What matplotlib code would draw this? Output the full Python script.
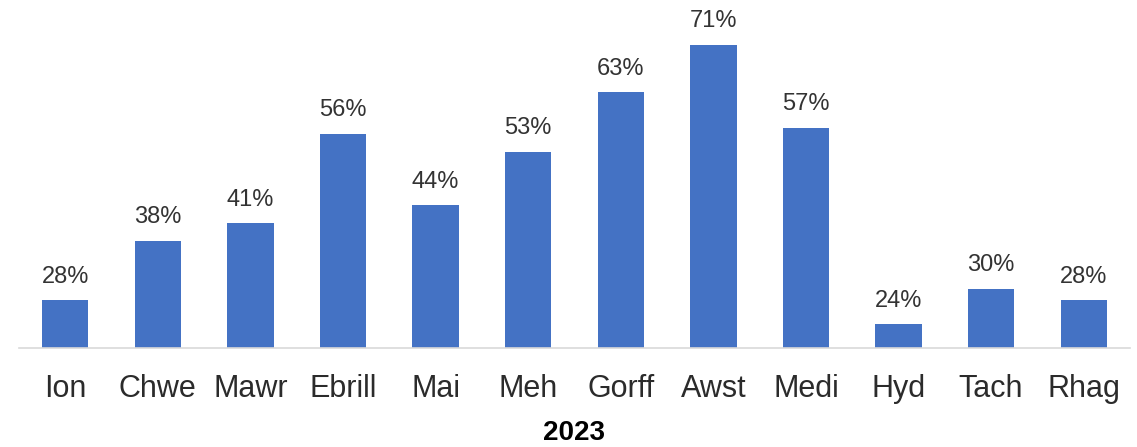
import matplotlib
matplotlib.use("Agg")
import matplotlib.pyplot as plt

months = ["Ion", "Chwe", "Mawr", "Ebrill", "Mai", "Meh", "Gorff", "Awst", "Medi", "Hyd", "Tach", "Rhag"]
values = [28, 38, 41, 56, 44, 53, 63, 71, 57, 24, 30, 28]
xlabel = "2023"

plt.rcParams['font.family'] = ['Liberation Sans', 'DejaVu Sans']

fig = plt.figure(figsize=(11.37, 4.47), dpi=100)
ax = fig.add_axes([19/1137, 99/447, (1130-19)/1137, (348-3)/447])

x = list(range(len(months)))
bars = ax.bar(x, values, width=0.5, color="#4472C4", bottom=0)
ax.set_ylim(20, 78)
ax.set_xlim(-0.5, 11.5)

for xi, v in zip(x, values):
    ax.annotate(f"{v}%", (xi, v), xytext=(0, 9), textcoords="offset points",
                ha="center", va="bottom", fontsize=17, color="#333333")

ax.set_xticks(x)
ax.set_xticklabels(months, fontsize=22, color="#2b2b2b")
ax.tick_params(axis="x", length=0, pad=19)
ax.set_yticks([])
for s in ["top", "right", "left"]:
    ax.spines[s].set_visible(False)
ax.spines["bottom"].set_color("#d9d9d9")
ax.spines["bottom"].set_linewidth(1.2)
ax.set_xlabel(xlabel, fontsize=20, fontweight="bold", color="#000000", labelpad=11)
ax.patch.set_visible(False)

fig.savefig("out.png", dpi=100)
